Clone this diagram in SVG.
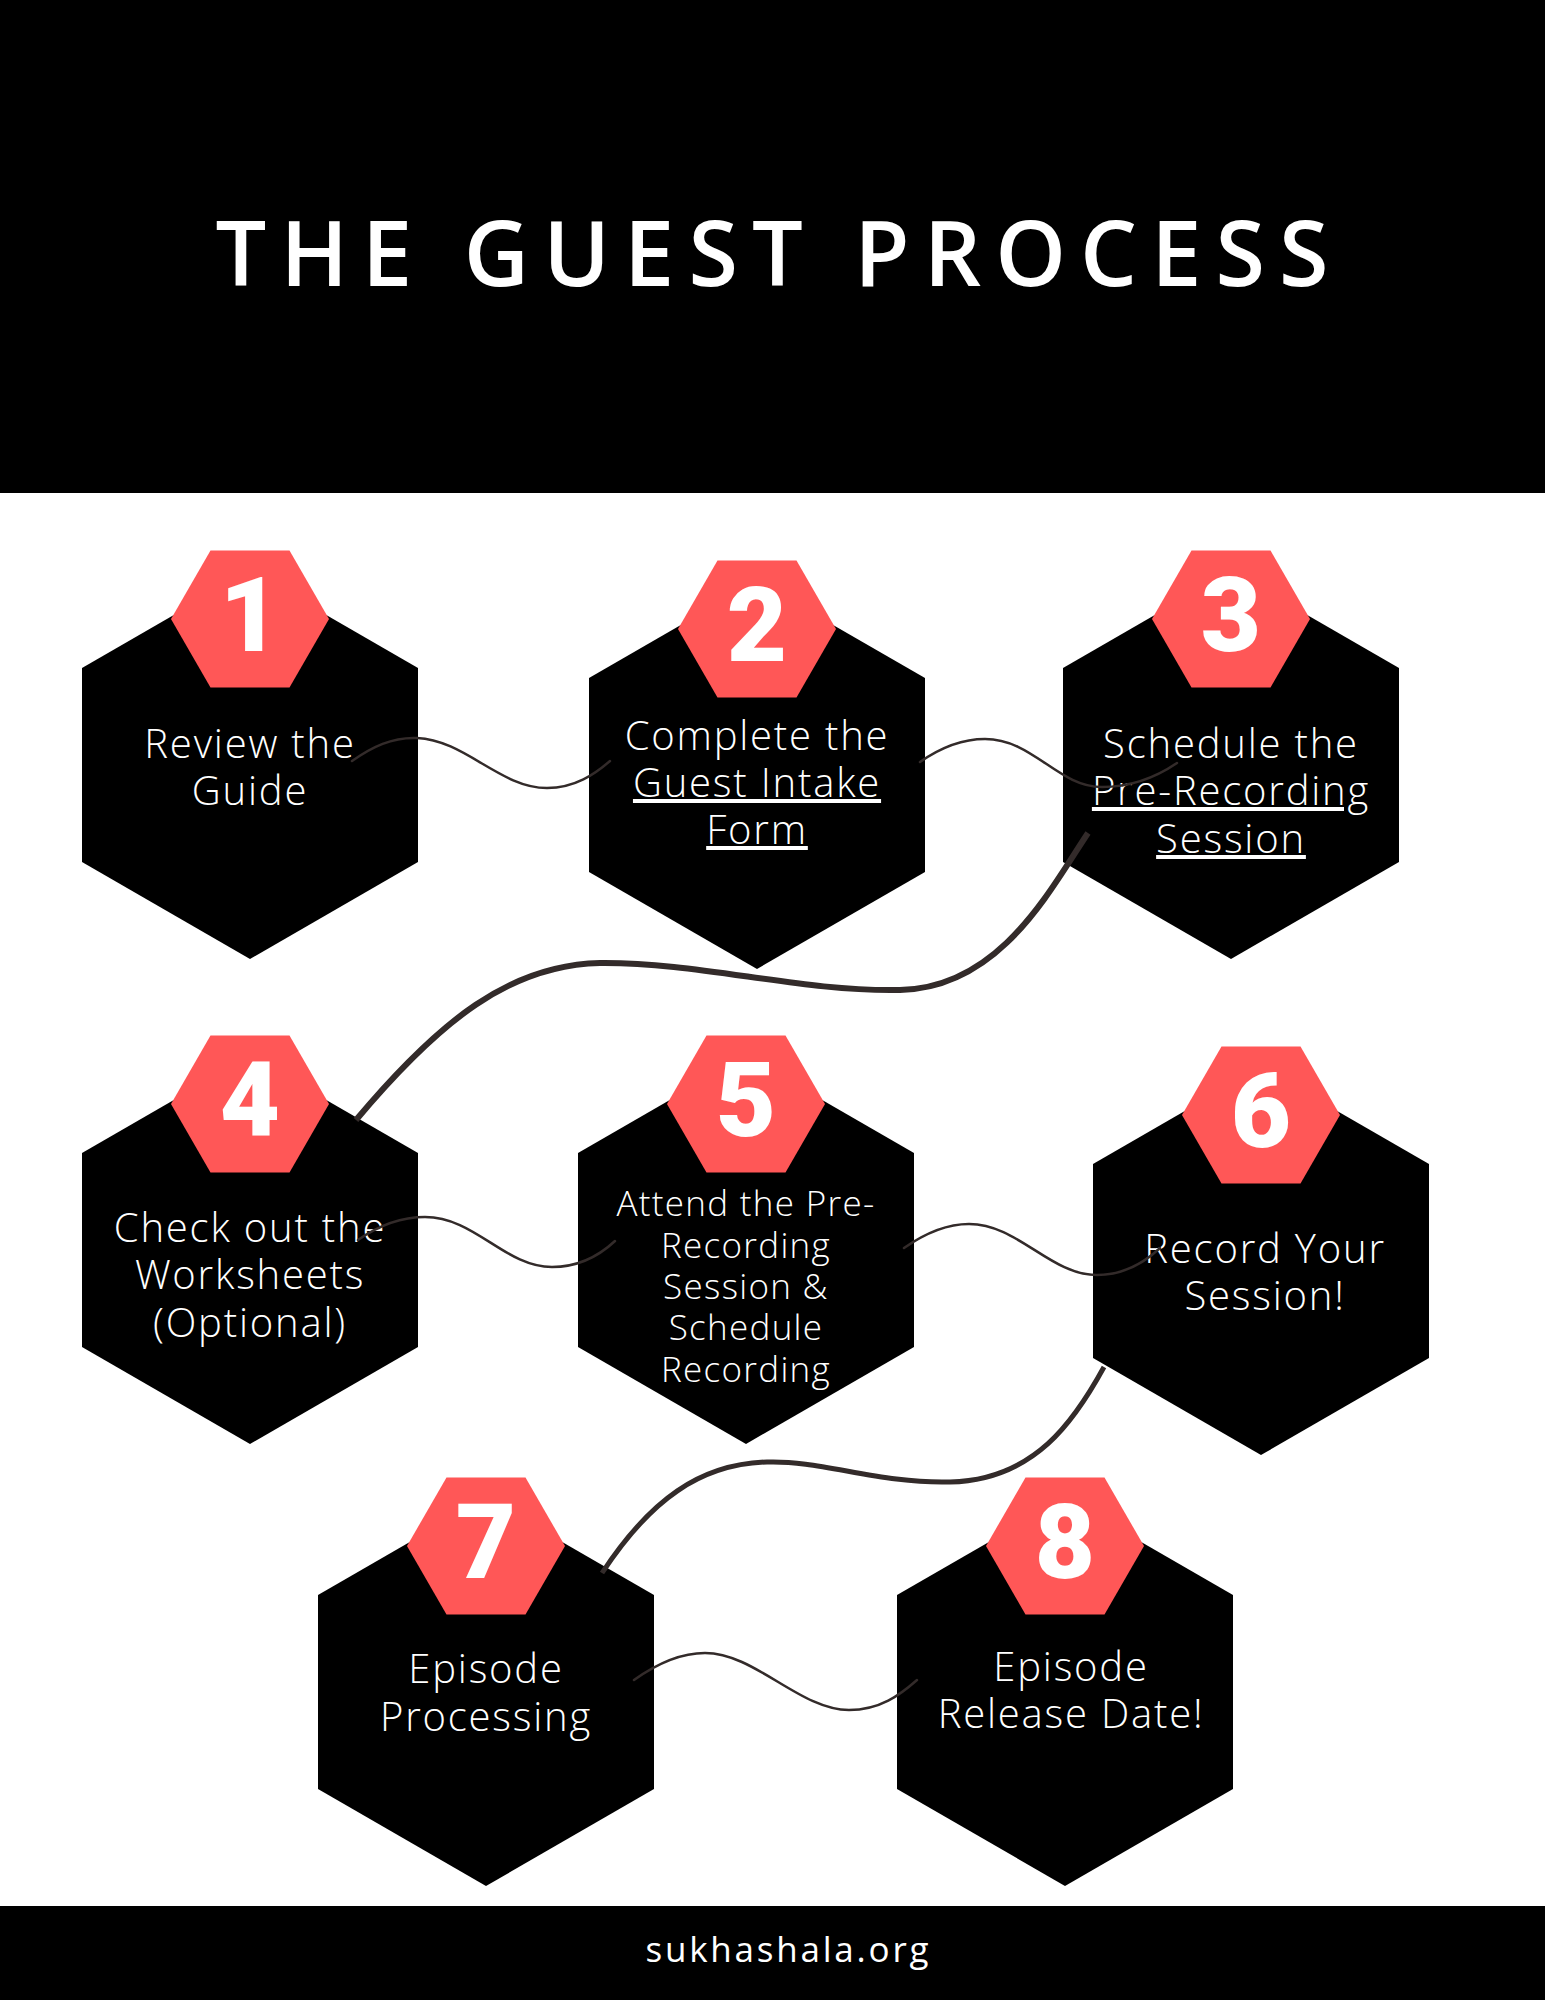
<svg xmlns="http://www.w3.org/2000/svg" xmlns:xlink="http://www.w3.org/1999/xlink" width="1545" height="2000" viewBox="0 0 1545 2000">
<style>
.bg{fill:#ffffff}
.band{fill:#000000}
.title{font-family:"Open Sans","Noto Sans",sans-serif;font-weight:600;font-size:90px;fill:#ffffff}
.foot{font-family:"Open Sans","Noto Sans",sans-serif;font-weight:400;font-size:35px;fill:#ffffff}
.num{font-family:Roboto,"Liberation Sans",sans-serif;font-weight:900;font-size:104px;fill:#ffffff;text-anchor:middle}
.lbl{font-family:"Open Sans","Noto Sans",sans-serif;font-weight:300;font-size:40px;letter-spacing:1.8px;fill:#ffffff;text-anchor:middle}
.sm{font-size:35px;letter-spacing:1.3px}
.u{text-decoration:underline}
.thin{fill:none;stroke:#332b2a;stroke-width:2.5;stroke-linecap:round}
.thick{fill:none;stroke:#332b2a;stroke-width:6}
.mid{fill:none;stroke:#332b2a;stroke-width:5}
</style>
<defs>
<path id="bhex" d="M0,-194 L168,-97 L168,97 L0,194 L-168,97 L-168,-97 Z" fill="#000000"/>
<path id="rhex" d="M-79,-146 L-39.5,-214.5 L39.5,-214.5 L79,-146 L39.5,-77.5 L-39.5,-77.5 Z" fill="#ff5757"/>
</defs>
<rect class="bg" x="0" y="0" width="1545" height="2000"/>
<rect class="band" x="0" y="0" width="1545" height="493"/>
<text class="title" x="772" y="286" text-anchor="middle" textLength="1113" lengthAdjust="spacing">THE GUEST PROCESS</text>
<rect class="band" x="0" y="1906" width="1545" height="94"/>
<text class="foot" x="787" y="1962" text-anchor="middle" textLength="283" lengthAdjust="spacing">sukhashala.org</text>

<g id="node-1" transform="translate(250,765)">
<use xlink:href="#bhex"/><use xlink:href="#rhex"/>
<text class="num" x="0" y="-114">1</text>
<text class="lbl"><tspan x="0" y="-7">Review the</tspan><tspan x="0" y="40">Guide</tspan></text>
</g>
<g id="node-2" transform="translate(757,775)">
<use xlink:href="#bhex"/><use xlink:href="#rhex"/>
<text class="num" x="0" y="-114">2</text>
<text class="lbl"><tspan x="0" y="-25">Complete the</tspan><tspan class="u" x="0" y="22">Guest Intake</tspan><tspan class="u" x="0" y="69">Form</tspan></text>
</g>
<g id="node-3" transform="translate(1231,765)">
<use xlink:href="#bhex"/><use xlink:href="#rhex"/>
<text class="num" x="0" y="-114">3</text>
<text class="lbl"><tspan x="0" y="-7">Schedule the</tspan><tspan class="u" x="0" y="40">Pre-Recording</tspan><tspan class="u" x="0" y="88">Session</tspan></text>
</g>
<g id="node-4" transform="translate(250,1250)">
<use xlink:href="#bhex"/><use xlink:href="#rhex"/>
<text class="num" x="0" y="-114">4</text>
<text class="lbl"><tspan x="0" y="-8">Check out the</tspan><tspan x="0" y="39">Worksheets</tspan><tspan x="0" y="87">(Optional)</tspan></text>
</g>
<g id="node-5" transform="translate(746,1250)">
<use xlink:href="#bhex"/><use xlink:href="#rhex"/>
<text class="num" x="0" y="-114">5</text>
<text class="lbl sm"><tspan x="0" y="-34">Attend the Pre-</tspan><tspan x="0" y="8">Recording</tspan><tspan x="0" y="49">Session &amp;</tspan><tspan x="0" y="90">Schedule</tspan><tspan x="0" y="132">Recording</tspan></text>
</g>
<g id="node-6" transform="translate(1261,1261)">
<use xlink:href="#bhex"/><use xlink:href="#rhex"/>
<text class="num" x="0" y="-114">6</text>
<text class="lbl"><tspan x="4" y="2">Record Your</tspan><tspan x="4" y="49">Session!</tspan></text>
</g>
<g id="node-7" transform="translate(486,1692)">
<use xlink:href="#bhex"/><use xlink:href="#rhex"/>
<text class="num" x="0" y="-114">7</text>
<text class="lbl"><tspan x="0" y="-9">Episode</tspan><tspan x="0" y="39">Processing</tspan></text>
</g>
<g id="node-8" transform="translate(1065,1692)">
<use xlink:href="#bhex"/><use xlink:href="#rhex"/>
<text class="num" x="0" y="-114">8</text>
<text class="lbl"><tspan x="6" y="-11">Episode</tspan><tspan x="6" y="36">Release Date!</tspan></text>
</g>

<g id="connectors">
<path class="thin" d="M352,761 C372,747 392,737 417,738 C465,740 500,788 547,788 C575,788 595,774 610,761"/>
<path class="thin" d="M920,762 C940,748 960,739 985,739 C1033,739 1058,787 1102,787 C1130,787 1155,778 1177,763"/>
<path class="thick" d="M1088,833 C1050,890 1000,988 900,990 C800,992 700,962 600,963 C510,965 440,1020 356,1120"/>
<path class="thin" d="M358,1240 C378,1226 400,1217 425,1217 C475,1217 505,1267 552,1267 C580,1267 600,1255 615,1241"/>
<path class="thin" d="M904,1248 C924,1234 945,1224 969,1224 C1018,1224 1050,1275 1097,1275 C1125,1275 1145,1262 1160,1248"/>
<path class="mid" d="M1104,1367 C1075,1420 1035,1480 950,1482 C880,1484 820,1460 767,1462 C700,1464 650,1500 602,1573"/>
<path class="thin" d="M634,1680 C655,1665 680,1653 705,1653 C755,1653 800,1710 849,1710 C880,1710 900,1695 917,1680"/>
</g>
</svg>
